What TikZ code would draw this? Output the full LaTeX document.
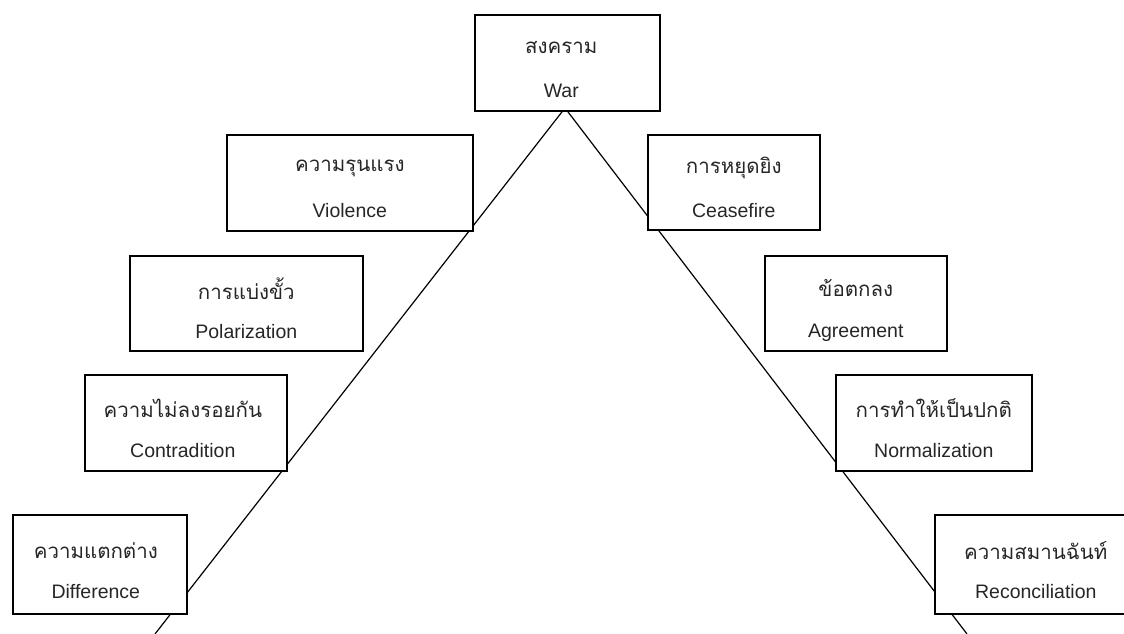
\documentclass[tikz,border=0pt]{standalone}
\usepackage{fontspec}
\setmainfont{Liberation Sans}
\newfontfamily\thaifont[Script=Thai]{Loma}
\begin{document}
\begin{tikzpicture}[x=1pt,y=-1pt,
  box/.style={draw, line width=1.6pt, fill=white, anchor=north west, inner sep=0pt},
  th/.style={font=\thaifont\fontsize{20.5}{25}\selectfont, inner sep=0pt, text=black!85},
  en/.style={font=\fontsize{19.5}{23}\selectfont, inner sep=0pt, text=black!85},
  slope/.style={line width=1.2pt}]
\useasboundingbox (0,0) rectangle (1124,634);
\fill[white] (0,0) rectangle (1124,634);
\coordinate (apex) at (565,108);
\coordinate (bl) at (155,634);
\coordinate (br) at (967,634);
\draw[slope] (bl) -- (apex) -- (br);

% boxes
\node[box, minimum width=185, minimum height=96] (war) at (474,14) {};
\node[box, minimum width=246, minimum height=96] (vio) at (226,134) {};
\node[box, minimum width=172, minimum height=95] (cea) at (647,134) {};
\node[box, minimum width=233, minimum height=95] (pol) at (129,255) {};
\node[box, minimum width=182, minimum height=95] (agr) at (764,255) {};
\node[box, minimum width=202, minimum height=96] (con) at (84,374) {};
\node[box, minimum width=196, minimum height=96] (nor) at (835,374) {};
\node[box, minimum width=174, minimum height=99] (dif) at (12,514) {};
\node[box, minimum width=202, minimum height=99] (rec) at (934,514) {};

% labels
\node[th] (warth) at ([xshift=-6pt,yshift=-34pt]war.north) {สงคราม};
\node[en] (waren) at ([xshift=-6pt,yshift=-77pt]war.north) {War};
\node[th] (vioth) at ([yshift=-34pt]vio.north) {ความรุนแรง};
\node[en] (vioen) at ([yshift=-77pt]vio.north) {Violence};
\node[th] (ceath) at ([yshift=-34pt]cea.north) {การหยุดยิง};
\node[en] (ceaen) at ([yshift=-77pt]cea.north) {Ceasefire};
\node[th] (polth) at ([yshift=-34pt]pol.north) {การแบ่งขั้ว};
\node[en] (polen) at ([yshift=-77pt]pol.north) {Polarization};
\node[th] (agrth) at ([yshift=-33pt]agr.north) {ข้อตกลง};
\node[en] (agren) at ([yshift=-78pt]agr.north) {Agreement};
\node[th] (conth) at ([xshift=-3pt,yshift=-34pt]con.north) {ความไม่ลงรอยกัน};
\node[en] (conen) at ([xshift=-3pt,yshift=-77pt]con.north) {Contradition};
\node[th] (north) at ([yshift=-34pt]nor.north) {การทำให้เป็นปกติ};
\node[en] (noren) at ([yshift=-77pt]nor.north) {Normalization};
\node[th] (difth) at ([xshift=-4pt,yshift=-37pt]dif.north) {ความแตกต่าง};
\node[en] (difen) at ([xshift=-4pt,yshift=-78pt]dif.north) {Difference};
\node[th] (recth) at ([yshift=-37pt]rec.north) {ความสมานฉันท์};
\node[en] (recen) at ([yshift=-78pt]rec.north) {Reconciliation};
\end{tikzpicture}
\end{document}
